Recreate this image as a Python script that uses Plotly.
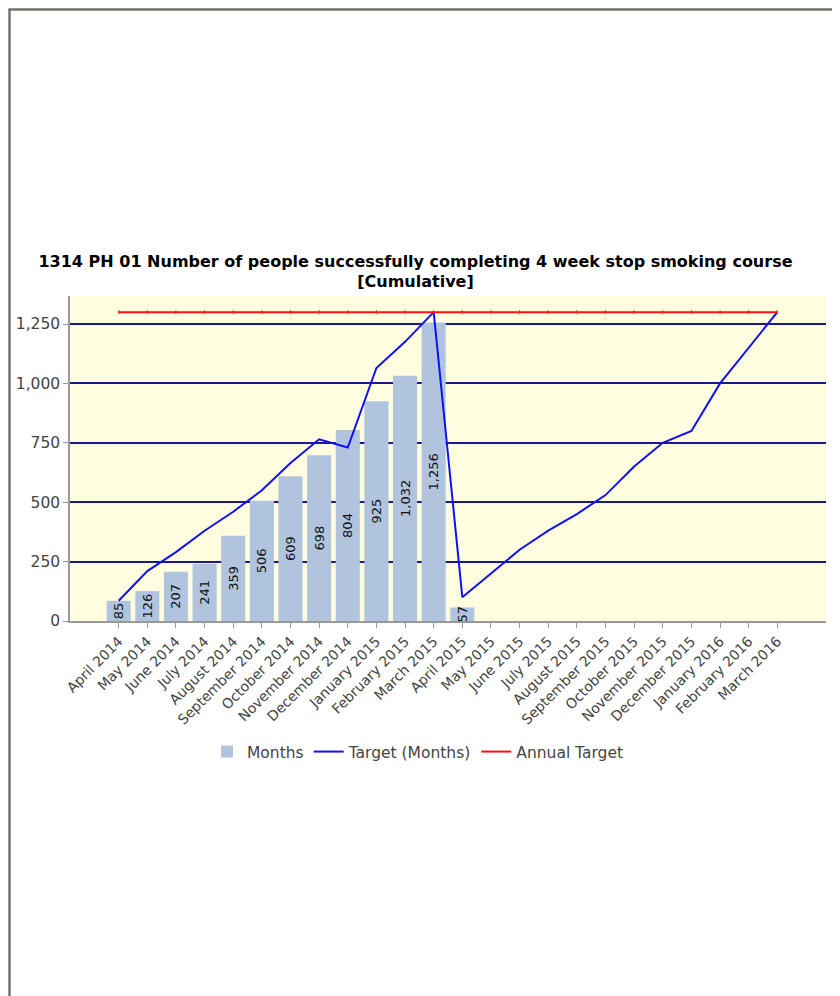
import plotly.graph_objects as go

months = ["April 2014", "May 2014", "June 2014", "July 2014", "August 2014", "September 2014",
          "October 2014", "November 2014", "December 2014", "January 2015", "February 2015",
          "March 2015", "April 2015", "May 2015", "June 2015", "July 2015", "August 2015",
          "September 2015", "October 2015", "November 2015", "December 2015", "January 2016",
          "February 2016", "March 2016"]
actual = [85, 126, 207, 241, 359, 506, 609, 698, 804, 925, 1032, 1256, 57,
          None, None, None, None, None, None, None, None, None, None, None]
target = [85, 210, 290, 380, 460, 550, 665, 765, 730, 1065, 1175, 1300,
          100, 200, 300, 380, 450, 530, 650, 750, 800, 1000, 1150, 1300]
annual = [1300] * 24
yticks = [0, 250, 500, 750, 1000, 1250]

FONT = "DejaVu Sans"
OFF = 8  # page body margin
W, H = 840 - OFF, 996 - OFF
L, R, T, B = 70 - OFF, W - (826 - OFF), 296 - OFF, H - (621 - OFF)
pw, ph = W - L - R, H - T - B


def px(x):
    return (x - OFF - L) / pw


def py(y):
    return (H - B - (y - OFF)) / ph


fig = go.Figure()
fig.add_trace(go.Bar(
    x=months, y=actual, name="Months",
    marker=dict(color="#B0C4DE", line=dict(width=0)),
    text=[f"{v:,}" if v is not None else "" for v in actual],
    textposition="inside", insidetextanchor="middle", textangle=-90,
    constraintext="none", cliponaxis=True,
    textfont=dict(family=FONT, size=13, color="#111111"),
))
fig.add_trace(go.Scatter(
    x=months, y=target, name="Target (Months)", mode="lines",
    line=dict(color="#1010F0", width=2),
))
fig.add_trace(go.Scatter(
    x=months, y=annual, name="Annual Target", mode="lines",
    line=dict(color="#FF1010", width=2),
))
fig.add_trace(go.Scatter(
    x=months, y=annual, name="Annual Target", mode="markers", showlegend=False,
    marker=dict(symbol="line-ns", size=3, line=dict(color="#E83030", width=1)),
))

fig.update_layout(
    width=W, height=H,
    margin=dict(l=L, r=R, t=T, b=B, autoexpand=False),
    paper_bgcolor="white", plot_bgcolor="#FFFDE0",
    bargap=0.16,
    font=dict(family=FONT, size=14, color="#444444"),
    title=dict(
        text="<b>1314 PH 01 Number of people successfully completing 4 week stop smoking course<br>[Cumulative]</b>",
        x=(415.5 - OFF) / W, xanchor="center", y=1 - (266.5 - OFF) / H, yanchor="middle",
        font=dict(family=FONT, size=16, color="#000000"),
    ),
    showlegend=True,
    legend=dict(orientation="h", x=px(418), xanchor="center", y=py(752), yanchor="middle",
                font=dict(family=FONT, size=15.5, color="#444444"),
                bgcolor="rgba(0,0,0,0)", itemwidth=30, tracegroupgap=0),
    xaxis=dict(
        type="category", range=[-1.7, 24.7], tickangle=-45,
        showline=True, linecolor="#999999", linewidth=1.5,
        ticks="outside", ticklen=5, tickcolor="#999999",
        showgrid=False, tickfont=dict(family=FONT, size=14, color="#444444"),
    ),
    yaxis=dict(
        range=[0, 1368], tickvals=yticks, tickformat=",",
        showline=True, linecolor="#999999", linewidth=1.5,
        ticks="outside", ticklen=5, tickcolor="#999999",
        showgrid=True, gridcolor="#1A1A8A", gridwidth=1.5, zeroline=False,
        tickfont=dict(family=FONT, size=15.5, color="#444444"),
    ),
    shapes=[
        dict(type="line", xref="paper", yref="paper", x0=px(9.5), x1=px(9.5), y0=py(9), y1=py(1000),
             line=dict(color="#717368", width=2.5)),
        dict(type="line", xref="paper", yref="paper", x0=px(835), x1=px(835), y0=py(9), y1=py(1000),
             line=dict(color="#717368", width=2.5)),
        dict(type="line", xref="paper", yref="paper", x0=px(8.5), x1=px(836), y0=py(9.5), y1=py(9.5),
             line=dict(color="#717368", width=2.5)),
    ],
)

fig.write_html("out.html")
